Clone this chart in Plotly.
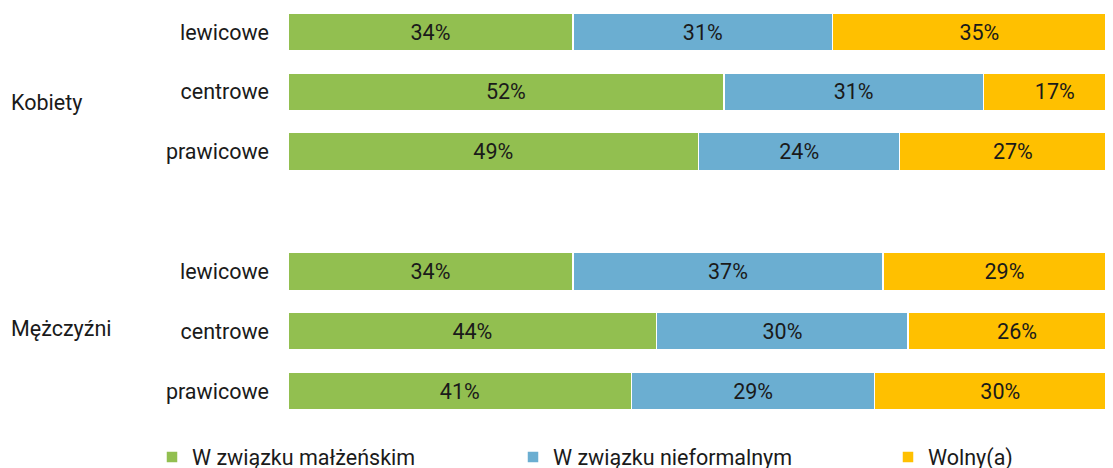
import plotly.graph_objects as go

groups = ["Kobiety", "Mężczyźni"]
categories = ["lewicowe", "centrowe", "prawicowe", "lewicowe", "centrowe", "prawicowe"]
slots = [0, 1, 2, 4, 5, 6]
series_names = ["W związku małżeńskim", "W związku nieformalnym", "Wolny(a)"]
malzenski = [34, 52, 49, 34, 44, 41]
nieformalny = [31, 31, 24, 37, 30, 29]
wolny = [35, 17, 27, 29, 26, 30]
colors = ["#92BF50", "#6BAED1", "#FFC000"]

FONT = "Roboto"
TXT = "#1a1a1a"
FS = 21.5
W, H = 1105, 460

fig = go.Figure()
legends = ["legend", "legend2", "legend3"]
for name, vals, col, lg in zip(series_names, [malzenski, nieformalny, wolny], colors, legends):
    fig.add_trace(go.Bar(
        y=slots, x=vals, orientation="h", name=name,
        marker=dict(color=col, line=dict(color="white", width=1.5)),
        text=[f"{v}%" for v in vals], textposition="inside", insidetextanchor="middle",
        textfont=dict(family=FONT, size=FS, color=TXT),
        width=0.635, legend=lg, hoverinfo="skip", showlegend=True,
    ))

fig.update_layout(
    width=W, height=H,
    barmode="stack",
    showlegend=True,
    plot_bgcolor="white", paper_bgcolor="white",
    margin=dict(l=280, r=0, t=0, b=47, autoexpand=False),
    font=dict(family=FONT, size=FS, color=TXT),
    xaxis=dict(range=[0, 98.45], visible=False, fixedrange=True),
    yaxis=dict(range=[6.5, -0.401], tickvals=slots, ticktext=categories,
               showgrid=False, zeroline=False, ticks="", ticklabelstandoff=18,
               tickfont=dict(family=FONT, size=FS, color=TXT)),
    uniformtext=dict(mode=False),
)

leg_px = [144, 505, 880]
common = dict(orientation="h", yanchor="middle", xanchor="left",
              xref="container", yref="container", y=1 - 449 / H,
              font=dict(family=FONT, size=FS, color=TXT), bgcolor="rgba(0,0,0,0)",
              itemwidth=30, tracegroupgap=0, visible=True)
fig.update_layout(
    legend=dict(x=leg_px[0] / W, **common),
    legend2=dict(x=leg_px[1] / W, **common),
    legend3=dict(x=leg_px[2] / W, **common),
)

for g, ys, shift in zip(groups, [1, 5], [-11, 3]):
    fig.add_annotation(text=g, xref="paper", x=(1 - 280) / 825, xanchor="left",
                       yref="y", y=ys, yshift=shift, showarrow=False,
                       font=dict(family=FONT, size=FS, color=TXT))

fig.write_html("out.html")
